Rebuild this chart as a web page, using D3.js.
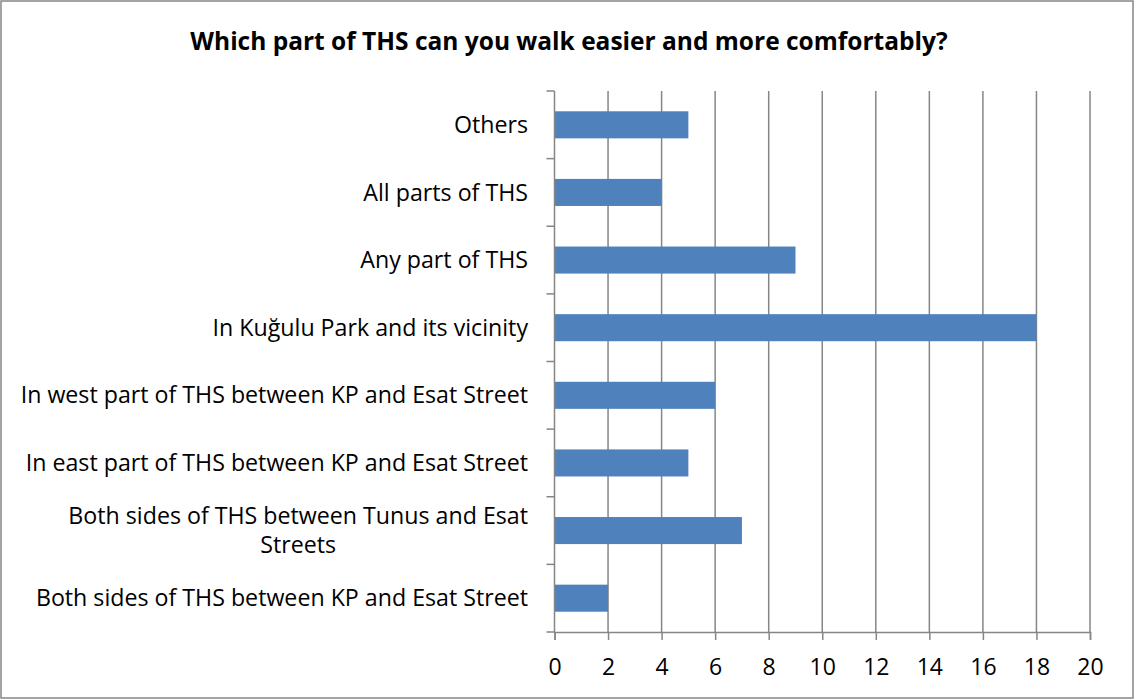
<!DOCTYPE html>
<html>
<head>
<meta charset="utf-8">
<script src="https://cdn.jsdelivr.net/npm/d3@7"></script>
<style>
  html, body { margin: 0; padding: 0; background: #fff; }
  svg { display: block; }
</style>
</head>
<body>
<script>
// Survey answers, listed bottom to top as they appear on the axis
const categories = [
  "Both sides of THS between KP and Esat Street",
  "Both sides of THS between Tunus and Esat Streets",
  "In east part of THS between KP and Esat Street",
  "In west part of THS between KP and Esat Street",
  "In Kuğulu Park and its vicinity",
  "Any part of THS",
  "All parts of THS",
  "Others"
];
const counts = [2, 7, 5, 6, 18, 9, 4, 5];
const xTicks = [0, 2, 4, 6, 8, 10, 12, 14, 16, 18, 20];
// Labels that break onto two lines
const labelLines = {
  "Both sides of THS between Tunus and Esat Streets": ["Both sides of THS between Tunus and Esat", "Streets"]
};
const title = "Which part of THS can you walk easier and more comfortably?";

const W = 1135, H = 700;
const plot = { left: 554.5, right: 1090, top: 91, bottom: 632 };
const font = "'Open Sans', 'Noto Sans', sans-serif";

const svg = d3.select("body").append("svg").attr("width", W).attr("height", H);

svg.append("rect")
  .attr("x", 1).attr("y", 1).attr("width", W - 3).attr("height", H - 3)
  .attr("fill", "#fff").attr("stroke", "#868686").attr("stroke-width", 1.5);

svg.append("text")
  .attr("x", 569).attr("y", 50)
  .attr("text-anchor", "middle")
  .attr("font-family", font).attr("font-weight", "bold").attr("font-size", 24.5)
  .attr("fill", "#000")
  .text(title);

const x = d3.scaleLinear().domain([0, 20]).range([plot.left, plot.right]);
// Top-to-bottom order: reverse so the first category sits at the bottom
const y = d3.scaleBand().domain(categories.slice().reverse())
  .range([plot.top, plot.bottom]).paddingInner(0.6).paddingOuter(0.3);

// Vertical gridlines
svg.append("g").selectAll("line").data(xTicks.filter(d => d > 0)).join("line")
  .attr("x1", d => x(d)).attr("x2", d => x(d))
  .attr("y1", plot.top).attr("y2", plot.bottom)
  .attr("stroke", "#868686").attr("stroke-width", 1.5);

// Bars
svg.append("g").selectAll("rect").data(categories).join("rect")
  .attr("x", x(0))
  .attr("y", d => y(d))
  .attr("width", (d, i) => x(counts[i]) - x(0))
  .attr("height", y.bandwidth())
  .attr("fill", "#4F81BD");

// Bottom axis
const xAxis = svg.append("g")
  .attr("transform", `translate(0,${plot.bottom})`)
  .call(d3.axisBottom(x).tickValues(xTicks).tickSize(8).tickPadding(19));
xAxis.select(".domain").attr("stroke", "#868686").attr("stroke-width", 1.5);
xAxis.selectAll(".tick line").attr("stroke", "#868686").attr("stroke-width", 1.5);
xAxis.selectAll(".tick text")
  .attr("font-family", font).attr("font-size", 23).attr("fill", "#000");

// Left axis: band boundaries as ticks
const step = (plot.bottom - plot.top) / categories.length;
const yAxisG = svg.append("g");
yAxisG.append("line")
  .attr("x1", plot.left).attr("x2", plot.left)
  .attr("y1", plot.top).attr("y2", plot.bottom)
  .attr("stroke", "#868686").attr("stroke-width", 1.5);
yAxisG.selectAll("line.tk").data(d3.range(categories.length + 1)).join("line")
  .attr("class", "tk")
  .attr("x1", plot.left - 8).attr("x2", plot.left)
  .attr("y1", i => plot.top + i * step).attr("y2", i => plot.top + i * step)
  .attr("stroke", "#868686").attr("stroke-width", 1.5);

// Category labels, right-aligned; wrapped labels centered within their block
const labelRight = 528;
categories.forEach(c => {
  const cy = y(c) + y.bandwidth() / 2;
  const lines = labelLines[c] || [c];
  const lh = 29;
  const g = svg.append("g");
  const texts = lines.map((ln, k) => g.append("text")
    .attr("y", cy + (k - (lines.length - 1) / 2) * lh)
    .attr("dy", "0.35em")
    .attr("font-family", font).attr("font-size", 23.2).attr("fill", "#000")
    .text(ln));
  const widths = texts.map(t => t.node().getComputedTextLength());
  const maxW = d3.max(widths);
  const center = labelRight - maxW / 2;
  texts.forEach(t => t.attr("x", center).attr("text-anchor", "middle"));
});
</script>
</body>
</html>
